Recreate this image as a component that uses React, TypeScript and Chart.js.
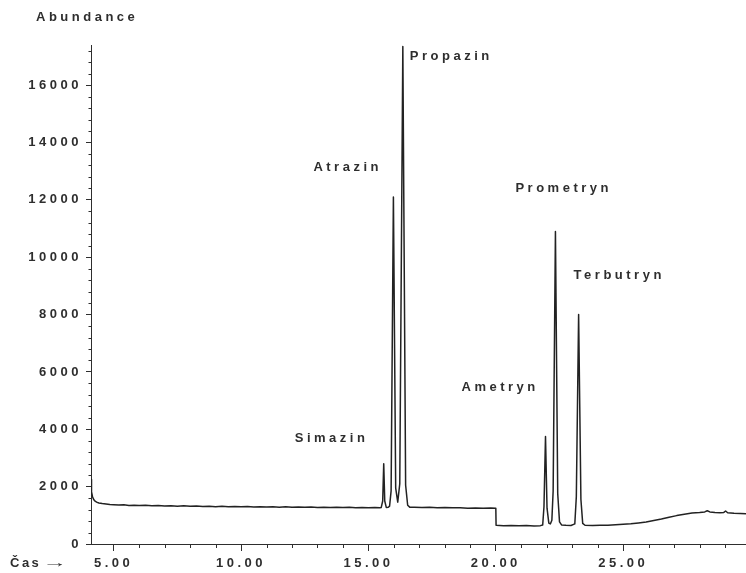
import React, { useEffect, useRef } from 'react';
import { Chart, registerables } from 'chart.js';

Chart.register(...registerables);

// Detector trace, [retention time (min), abundance] pairs, split by region of the run.
const solventTail: [number, number][] = [
  [4.11, 2250], [4.12, 2050], [4.14, 1820], [4.17, 1650], [4.21, 1560], [4.26, 1500],
  [4.33, 1460], [4.42, 1430], [4.55, 1410], [4.7, 1395], [4.85, 1380], [5.0, 1370],
  [5.2, 1360], [5.4, 1365], [5.6, 1345], [5.8, 1355], [6.0, 1340], [6.25, 1350],
  [6.5, 1330], [6.75, 1340], [7.0, 1325], [7.25, 1335], [7.5, 1320], [7.75, 1330],
  [8.0, 1315], [8.25, 1325], [8.5, 1305], [8.75, 1320], [9.0, 1300], [9.25, 1315],
  [9.5, 1300], [9.75, 1310], [10.0, 1295], [10.25, 1305], [10.5, 1290], [10.75, 1300],
  [11.0, 1290], [11.25, 1300], [11.5, 1285], [11.75, 1295], [12.0, 1280], [12.25, 1290],
  [12.5, 1280], [12.75, 1290], [13.0, 1275], [13.25, 1285], [13.5, 1270], [13.75, 1280],
  [14.0, 1270], [14.25, 1280], [14.5, 1265], [14.75, 1275], [15.0, 1265], [15.25, 1275],
  [15.45, 1265],
];

// Simazin, Atrazin and Propazin
const chloroTriazines: [number, number][] = [
  [15.5, 1270], [15.56, 1500], [15.6, 2800], [15.64, 1500], [15.7, 1275], [15.78, 1280],
  [15.83, 1320], [15.89, 1850], [15.98, 12100], [16.07, 1950], [16.15, 1460], [16.23, 2100],
  [16.35, 17350], [16.46, 2050], [16.54, 1350], [16.62, 1285],
];

const midBaseline: [number, number][] = [
  [16.8, 1280], [17.1, 1270], [17.4, 1280], [17.7, 1265], [18.0, 1275], [18.3, 1260],
  [18.6, 1265], [18.9, 1250], [19.2, 1258], [19.5, 1245], [19.8, 1252], [20.0, 1245],
];

// Window change at 20 min, then Ametryn, Prometryn and Terbutryn
const methylthioTriazines: [number, number][] = [
  [20.01, 650], [20.3, 640], [20.6, 648], [20.9, 635], [21.2, 642], [21.5, 630],
  [21.75, 640], [21.84, 665], [21.89, 1300], [21.95, 3750], [22.01, 1250], [22.08, 730],
  [22.14, 700], [22.2, 830], [22.25, 1850], [22.34, 10900], [22.43, 1750], [22.5, 770],
  [22.58, 665], [22.75, 650], [22.95, 645], [23.1, 700], [23.16, 1650], [23.25, 8000],
  [23.34, 1550], [23.41, 720], [23.5, 655],
];

const lateBaseline: [number, number][] = [
  [23.8, 645], [24.1, 658], [24.4, 650], [24.7, 668], [25.0, 690], [25.3, 705],
  [25.6, 735], [25.9, 770], [26.2, 820], [26.5, 870], [26.8, 930], [27.1, 990],
  [27.4, 1040], [27.7, 1080], [28.0, 1100], [28.2, 1120], [28.3, 1160], [28.4, 1120],
  [28.6, 1100], [28.8, 1090], [28.95, 1100], [29.02, 1150], [29.1, 1090], [29.35, 1070],
  [29.6, 1060], [29.82, 1055],
];

const peakNames = ['Simazin', 'Atrazin', 'Propazin', 'Ametryn', 'Prometryn', 'Terbutryn'];
const peakTimes = [15.6, 15.98, 16.35, 21.95, 22.34, 23.25];

const xTickValues = [5, 10, 15, 20, 25];
const yTickValues = [0, 2000, 4000, 6000, 8000, 10000, 12000, 14000, 16000];

const X_MIN = 4.11;
const X_MAX = 29.82;
const Y_MAX = 17400;

const INK = '#2e2e2e';
const FONT_FAMILY = '"Liberation Sans", Arial, sans-serif';
const FONT = { family: FONT_FAMILY, size: 13, weight: 'bold' as const };
const CSS_FONT = `bold 13px ${FONT_FAMILY}`;
const SPACING = '3.5px';

// Where each compound name sits relative to its peak apex (pixels).
const labelOffset: Record<string, { dx: number; dy: number }> = {
  Simazin: { dx: -89, dy: -25 },
  Atrazin: { dx: -80, dy: -30 },
  Propazin: { dx: 7, dy: 10 },
  Ametryn: { dx: -84, dy: -49 },
  Prometryn: { dx: -40, dy: -43 },
  Terbutryn: { dx: -5, dy: -39 },
};

export default function App() {
  const canvasRef = useRef<HTMLCanvasElement>(null);

  useEffect(() => {
    const canvas = canvasRef.current;
    if (!canvas) return;

    const trace = [
      ...solventTail,
      ...chloroTriazines,
      ...midBaseline,
      ...methylthioTriazines,
      ...lateBaseline,
    ].map(([x, y]) => ({ x, y }));

    const apexOf = (t: number) =>
      trace
        .filter((p) => Math.abs(p.x - t) < 0.03)
        .reduce((best, p) => (p.y > best.y ? p : best), { x: t, y: 0 });

    const spacing = {
      id: 'spacing',
      beforeUpdate(chart: any) {
        chart.ctx.letterSpacing = SPACING;
      },
      beforeDraw(chart: any) {
        chart.ctx.letterSpacing = SPACING;
      },
    };

    const annotate = {
      id: 'annotate',
      afterDraw(chart: any) {
        const { ctx, chartArea, scales } = chart;
        const xs = scales.x;
        const ys = scales.y;
        ctx.save();
        ctx.strokeStyle = INK;
        ctx.lineWidth = 1;
        ctx.beginPath();
        // minor ticks: every minute on the time axis, every 400 counts on abundance
        for (let t = Math.ceil(X_MIN); t <= X_MAX; t++) {
          if (t % 5 === 0) continue;
          const px = Math.round(xs.getPixelForValue(t)) + 0.5;
          ctx.moveTo(px, chartArea.bottom);
          ctx.lineTo(px, chartArea.bottom + 4);
        }
        for (let v = 400; v < Y_MAX; v += 400) {
          if (v % 2000 === 0) continue;
          const py = Math.round(ys.getPixelForValue(v)) + 0.5;
          ctx.moveTo(chartArea.left, py);
          ctx.lineTo(chartArea.left - 2.5, py);
        }
        ctx.stroke();

        ctx.fillStyle = INK;
        ctx.font = CSS_FONT;
        ctx.letterSpacing = SPACING;
        ctx.textBaseline = 'middle';
        ctx.textAlign = 'left';
        ctx.fillText('Abundance', 36, 17);

        peakNames.forEach((name, i) => {
          const apex = apexOf(peakTimes[i]);
          const off = labelOffset[name];
          const px = xs.getPixelForValue(apex.x);
          const py = ys.getPixelForValue(apex.y);
          ctx.fillText(name, px + off.dx, py + off.dy);
        });

        // time axis caption with a long arrow
        ctx.letterSpacing = '2.5px';
        ctx.fillText('Čas', 10, 563);
        ctx.letterSpacing = '0px';
        ctx.save();
        ctx.translate(42, 563);
        ctx.scale(1.9, 1);
        ctx.fillText('→', 0, 0);
        ctx.restore();
        ctx.restore();
      },
    };

    const chart = new Chart(canvas, {
      type: 'line',
      data: {
        datasets: [
          {
            data: trace,
            borderColor: '#222222',
            borderWidth: 1.5,
            borderJoinStyle: 'round',
            pointRadius: 0,
            tension: 0,
            fill: false,
          },
        ],
      },
      options: {
        animation: false,
        responsive: false,
        maintainAspectRatio: false,
        layout: { padding: { top: 45, right: 0, bottom: 0, left: 0 } },
        plugins: {
          legend: { display: false },
          tooltip: { enabled: false },
          title: { display: false },
        },
        scales: {
          x: {
            type: 'linear',
            min: X_MIN,
            max: X_MAX,
            afterBuildTicks: (axis: any) => {
              axis.ticks = xTickValues.map((value) => ({ value }));
            },
            afterFit: (axis: any) => {
              axis.height = 29;
            },
            ticks: {
              font: FONT,
              color: INK,
              padding: 5,
              maxRotation: 0,
              autoSkip: false,
              callback: (v: any) => Number(v).toFixed(2),
            },
            grid: {
              drawOnChartArea: false,
              drawTicks: true,
              tickLength: 7,
              tickColor: INK,
              tickWidth: 1,
            },
            border: { display: true, color: INK, width: 1 },
          },
          y: {
            type: 'linear',
            min: 0,
            max: Y_MAX,
            afterBuildTicks: (axis: any) => {
              axis.ticks = yTickValues.map((value) => ({ value }));
            },
            afterFit: (axis: any) => {
              axis.width = 91;
            },
            ticks: {
              font: FONT,
              color: INK,
              padding: 4,
              autoSkip: false,
              callback: (v: any) => String(v),
            },
            grid: {
              drawOnChartArea: false,
              drawTicks: true,
              tickLength: 5,
              tickColor: INK,
              tickWidth: 1,
            },
            border: { display: true, color: INK, width: 1 },
          },
        },
      },
      plugins: [spacing, annotate],
    });

    return () => chart.destroy();
  }, []);

  return (
    <div style={{ position: 'absolute', left: 0, top: 0, width: 746, height: 573, background: '#fff' }}>
      <canvas ref={canvasRef} width={746} height={573} style={{ display: 'block' }} />
    </div>
  );
}
